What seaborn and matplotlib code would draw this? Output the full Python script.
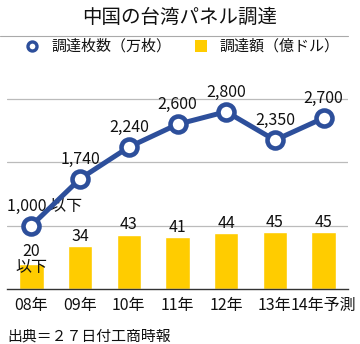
import matplotlib
matplotlib.use("Agg")
import matplotlib.pyplot as plt
from matplotlib.lines import Line2D
from matplotlib.patches import Rectangle
import seaborn as sns
import pandas as pd

years = ["08年", "09年", "10年", "11年", "12年", "13年", "14年予測"]
panels = [1000, 1740, 2240, 2600, 2800, 2350, 2700]
panel_labels = ["1,000 以下", "1,740", "2,240", "2,600", "2,800", "2,350", "2,700"]
amount = [20, 34, 43, 41, 44, 45, 45]
amount_labels = ["20\n以下", "34", "43", "41", "44", "45", "45"]
legend_labels = ["調達枚数（万枚）", "調達額（億ドル）"]

sns.set_theme(style="white")
plt.rcParams["font.family"] = ["Noto Sans CJK JP", "DejaVu Sans"]

NAVY = "#2D4F9B"
GOLD = "#FFCC00"
W, H = 360, 344
fig = plt.figure(figsize=(W / 100, H / 100), dpi=100)
ax = fig.add_axes([7 / W, (H - 289) / H, 341 / W, (289 - 80) / H])

df = pd.DataFrame({"pos": range(len(years)), "year": years,
                   "panels": panels, "amount": amount})

sns.barplot(data=df, x="pos", y="amount", color=GOLD, width=0.5,
            saturation=1, ax=ax, native_scale=True, zorder=2)
ax.set_ylim(0, 165)
for g in (50, 100, 150):
    ax.axhline(g, color="#BBBBBB", lw=0.9, zorder=0)

ax2 = ax.twinx()
sns.lineplot(data=df, x="pos", y="panels", color=NAVY, lw=3.6, ax=ax2,
             marker="o", markersize=11.5, markerfacecolor="white",
             markeredgecolor=NAVY, markeredgewidth=3.3, zorder=5,
             clip_on=False)
ax2.set_ylim(0, 3300)

FS = 11.5
for i, (v, lab) in enumerate(zip(panels, panel_labels)):
    dx = 0.28 if i == 0 else 0
    ax2.annotate(lab, (i + dx, v), xytext=(0, 8), textcoords="offset points",
                 ha="center", va="bottom", fontsize=FS, color="#111111")
for i, (v, lab) in enumerate(zip(amount, amount_labels)):
    if i == 0:
        ax.annotate(lab, (i, v), xytext=(0, 3), textcoords="offset points",
                    ha="center", va="center", fontsize=FS,
                    color="#111111", linespacing=0.85)
    else:
        ax.annotate(lab, (i, v), xytext=(0, 1), textcoords="offset points",
                    ha="center", va="bottom", fontsize=FS, color="#111111")

for a in (ax, ax2):
    a.set_xlabel("")
    a.set_ylabel("")
    a.set_yticks([])
    for s in ("top", "right", "left"):
        a.spines[s].set_visible(False)
ax2.spines["bottom"].set_visible(False)
ax2.tick_params(axis="x", bottom=False, labelbottom=False)
ax.spines["bottom"].set_color("#333333")
ax.spines["bottom"].set_linewidth(1.0)
ax.set_xticks(range(len(years)))
ax.set_xticklabels(years, fontsize=FS, color="#111111")
ax.tick_params(axis="x", length=0, pad=5.5, labelbottom=True)
ax.set_xlim(-0.5, len(years) - 0.5)

fig.text(0.5, 1 - 17 / H, "中国の台湾パネル調達", ha="center", va="center",
         fontsize=14, color="#111111")
fig.add_artist(Line2D([0, 348 / W], [1 - 36 / H, 1 - 36 / H],
                      color="#AAAAAA", lw=0.8))

# legend
ly = 1 - 46 / H
fig.add_artist(Line2D([32 / W], [ly], marker="o", markersize=6.5,
                      markerfacecolor="white", markeredgecolor=NAVY,
                      markeredgewidth=2.4, lw=0))
fig.text(51 / W, ly, legend_labels[0], ha="left", va="center",
         fontsize=10.8, color="#111111")
fig.add_artist(Rectangle((195 / W, ly - 6 / H), 12 / W, 12 / H,
                         facecolor=GOLD, edgecolor="none",
                         transform=fig.transFigure))
fig.text(219 / W, ly, legend_labels[1], ha="left", va="center",
         fontsize=10.8, color="#111111")

fig.text(7 / W, 1 - 336 / H, "出典＝２７日付工商時報", ha="left",
         va="center", fontsize=10.7, color="#111111")

fig.savefig("out.png", dpi=100)
